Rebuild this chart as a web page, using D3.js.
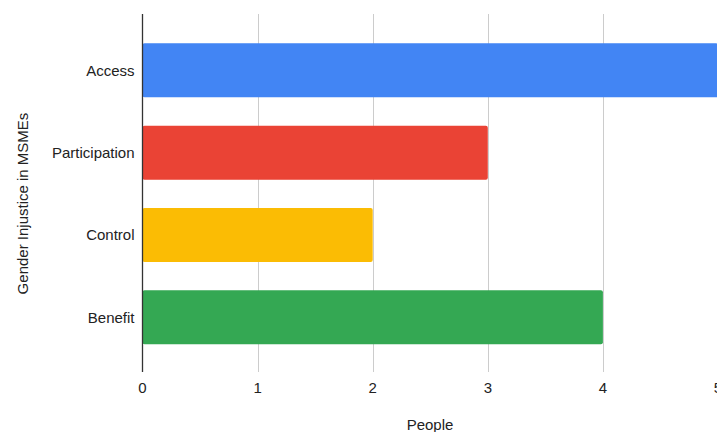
<!DOCTYPE html>
<html>
<head>
<meta charset="utf-8">
<script src="https://cdn.jsdelivr.net/npm/d3@7"></script>
<style>
  html, body { margin: 0; padding: 0; background: #fff; }
  svg { display: block; font-family: "Liberation Sans", Arial, sans-serif; }
</style>
</head>
<body>
<svg id="chart" width="717" height="432"></svg>
<script>
// Gender injustice categories and counts of people
const categories = ["Access", "Participation", "Control", "Benefit"];
const values = [5, 3, 2, 4];
const colors = ["#4285f4", "#ea4335", "#fbbc04", "#34a853"];
const xTicks = [0, 1, 2, 3, 4, 5];
const xTitle = "People";
const yTitle = "Gender Injustice in MSMEs";

const svg = d3.select("#chart");

const x = d3.scaleLinear().domain([0, 5]).range([142.5, 718]);
const y = d3.scaleBand().domain(categories).range([29.2, 358.4]).paddingInner(0.344).paddingOuter(0.172);

const plotTop = 14, plotBottom = 372;
const fontSize = 15;

// vertical gridlines
svg.append("g")
  .selectAll("line")
  .data(xTicks.filter(d => d > 0))
  .join("line")
  .attr("x1", d => Math.round(x(d)) + 0.5)
  .attr("x2", d => Math.round(x(d)) + 0.5)
  .attr("y1", plotTop)
  .attr("y2", plotBottom)
  .attr("stroke", "#cccccc")
  .attr("stroke-width", 1);

// bars
svg.append("g")
  .selectAll("rect")
  .data(categories)
  .join("rect")
  .attr("x", x(0))
  .attr("y", d => y(d))
  .attr("width", (d, i) => x(values[i]) - x(0))
  .attr("height", y.bandwidth())
  .attr("rx", 2)
  .attr("fill", (d, i) => colors[i]);

// baseline axis
svg.append("line")
  .attr("x1", 142.5).attr("x2", 142.5)
  .attr("y1", plotTop).attr("y2", plotBottom)
  .attr("stroke", "#333333")
  .attr("stroke-width", 1.3);

// x tick labels
svg.append("g")
  .selectAll("text")
  .data(xTicks)
  .join("text")
  .attr("x", d => x(d))
  .attr("y", 393)
  .attr("text-anchor", "middle")
  .attr("font-size", fontSize)
  .attr("fill", "#222")
  .text(d => d);

// category labels
svg.append("g")
  .selectAll("text")
  .data(categories)
  .join("text")
  .attr("x", 134.5)
  .attr("y", d => y(d) + y.bandwidth() / 2)
  .attr("dy", "0.35em")
  .attr("text-anchor", "end")
  .attr("font-size", fontSize)
  .attr("fill", "#222")
  .text(d => d);

// axis titles
svg.append("text")
  .attr("x", 430)
  .attr("y", 430)
  .attr("text-anchor", "middle")
  .attr("font-size", fontSize)
  .attr("fill", "#222")
  .text(xTitle);

svg.append("text")
  .attr("transform", "translate(27.5,203.5) rotate(-90)")
  .attr("text-anchor", "middle")
  .attr("font-size", fontSize)
  .attr("fill", "#222")
  .text(yTitle);
</script>
</body>
</html>
